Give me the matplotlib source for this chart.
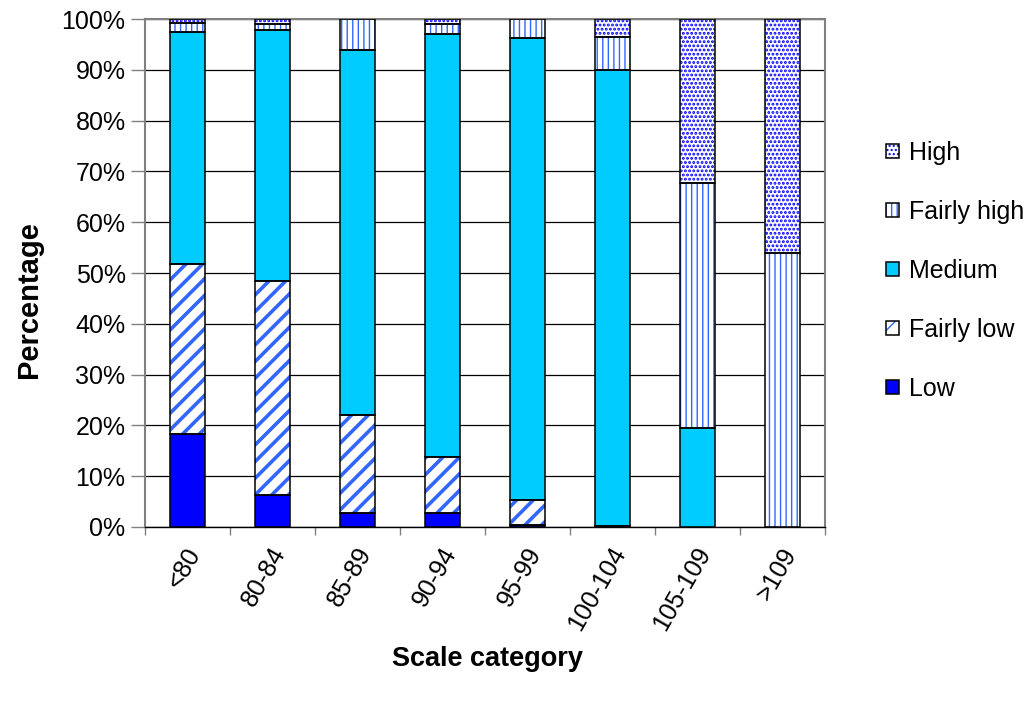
import numpy as np
import matplotlib
matplotlib.use('Agg')
import matplotlib.pyplot as plt
import matplotlib.transforms as mtransforms
from matplotlib.patches import Patch
from matplotlib.legend_handler import HandlerTuple
from matplotlib.ticker import FixedLocator, PercentFormatter

plt.rcParams['font.family'] = ['Liberation Sans', 'DejaVu Sans']

# Share of each level per scale category (%)
categories = ['<80', '80-84', '85-89', '90-94', '95-99', '100-104', '105-109', '>109']
low         = [18.3, 6.2, 2.7, 2.7, 0.3, 0.2, 0.0, 0.0]
fairly_low  = [33.5, 42.2, 19.3, 11.0, 5.1, 0.0, 0.0, 0.0]
medium      = [45.6, 49.5, 72.0, 83.4, 90.9, 89.8, 19.5, 0.0]
fairly_high = [1.9, 1.1, 6.0, 2.0, 3.7, 6.4, 48.2, 53.9]
high        = [0.7, 1.0, 0.0, 0.9, 0.0, 3.6, 32.3, 46.1]

# name, values, face colour, hatch, hatch colour, hatch line width
series = [
    ('Low',         low,         '#0000FF', None,   None,      1.0),
    ('Fairly low',  fairly_low,  'white',   '//',   '#3366FF', 2.6),
    ('Medium',      medium,      '#00CCFF', None,   None,      1.0),
    ('Fairly high', fairly_high, 'white',   '|||',  '#3366FF', 1.0),
    ('High',        high,        'white',   '....', '#0000FF', 1.4),
]

fig = plt.figure(figsize=(10.32, 7.02), dpi=100)
ax = fig.add_axes([0.1405, 0.2493, 0.6589, 0.7236])

x = np.arange(len(categories))
width = 0.42
bottom = np.zeros(len(categories))
handles = {}
for name, vals, face, hatch, hcol, hlw in series:
    vals = np.array(vals)
    lw = np.where(vals > 0, 1.1, 0.0)
    with plt.rc_context({'hatch.linewidth': hlw}):
        ax.bar(x, vals, width, bottom=bottom, color=face,
               edgecolor=hcol if hatch else face, hatch=hatch,
               linewidth=0, zorder=2)
        proxy_fill = Patch(facecolor=face, edgecolor=hcol if hatch else face,
                           hatch=hatch, linewidth=0)
    ax.bar(x, vals, width, bottom=bottom, facecolor='none',
           edgecolor='black', linewidth=lw, zorder=3)
    proxy_edge = Patch(facecolor='none', edgecolor='black', linewidth=1.1)
    handles[name] = (proxy_fill, proxy_edge)
    bottom += vals

ax.set_xlim(-0.5, len(categories) - 0.5)
ax.set_ylim(0, 100)
ax.yaxis.set_major_locator(FixedLocator(np.arange(0, 101, 10)))
ax.yaxis.set_major_formatter(PercentFormatter(decimals=0))
ax.grid(axis='y', color='black', linewidth=0.9, zorder=0)
ax.set_axisbelow(True)

# category ticks sit between the bars, labels centred under them
ax.set_xticks(x)
ax.set_xticklabels(categories, rotation=60, ha='right', va='center',
                   rotation_mode='anchor', fontsize=18)
ax.tick_params(axis='x', which='major', length=0, pad=16)
shift = mtransforms.ScaledTranslation(8 / 100, 0, fig.dpi_scale_trans)
for lab in ax.get_xticklabels():
    lab.set_transform(lab.get_transform() + shift)
ax.set_xticks(np.arange(-0.5, len(categories), 1), minor=True)
ax.tick_params(axis='x', which='minor', length=6, width=1, color='#808080')
ax.tick_params(axis='y', length=10, width=1, color='#808080', labelsize=18, pad=4)

for side in ['left', 'top', 'right']:
    ax.spines[side].set_color('#808080')
    ax.spines[side].set_linewidth(1.5)
ax.spines['bottom'].set_color('black')
ax.spines['bottom'].set_linewidth(1.0)

ax.set_ylabel('Percentage', fontsize=21, fontweight='bold')
ax.yaxis.set_label_coords(-0.15, 0.447)
ax.set_xlabel('Scale category', fontsize=19.5, fontweight='bold')
ax.xaxis.set_label_coords(0.504, -0.235)

order = ['High', 'Fairly high', 'Medium', 'Fairly low', 'Low']
ax.legend([handles[n] for n in order], order,
          handler_map={tuple: HandlerTuple(ndivide=1)},
          loc='center left', bbox_to_anchor=(1.09, 0.504), frameon=False,
          borderpad=0, borderaxespad=0,
          fontsize=18, handlelength=0.5, handleheight=0.5, handletextpad=0.4,
          labelspacing=1.4)

fig.savefig('out.png', dpi=100)
